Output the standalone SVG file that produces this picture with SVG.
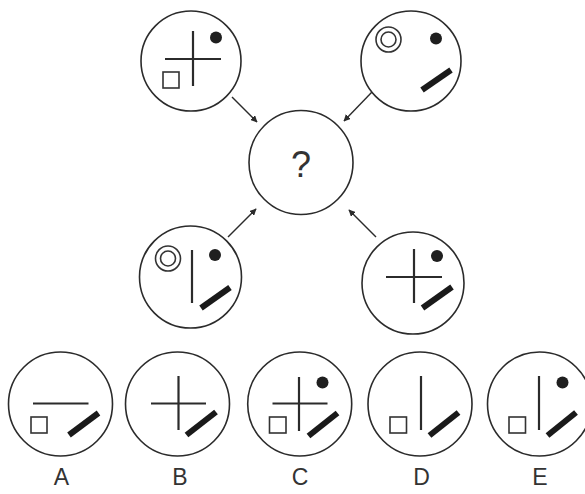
<svg xmlns="http://www.w3.org/2000/svg" width="585" height="494" viewBox="0 0 585 494">
<defs>
<style>
.c{fill:none;stroke:#2b2b2b;stroke-width:1.6}
.l{stroke:#2b2b2b;stroke-width:2.2;fill:none}
.b{stroke:#1a1a1a;stroke-width:6;fill:none}
.s{fill:none;stroke:#333;stroke-width:1.6}
.d{fill:#1f1f1f}
.a{stroke:#2b2b2b;stroke-width:1.4;fill:none;marker-end:url(#ah)}
.t{font-family:"Liberation Sans",Arial,sans-serif;fill:#333;text-anchor:middle}
</style>
<marker id="ah" viewBox="0 0 10 10" refX="9" refY="5" markerWidth="7" markerHeight="7" orient="auto" markerUnits="userSpaceOnUse">
<path d="M0,0 L10,5 L0,10 z" fill="#2b2b2b"/>
</marker>
</defs>
<rect width="585" height="494" fill="#fff"/>
<g id="connectors">
<line class="a" x1="232" y1="97" x2="257" y2="122"/>
<line class="a" x1="372" y1="92" x2="344" y2="121"/>
<line class="a" x1="228" y1="237" x2="256" y2="209"/>
<line class="a" x1="376" y1="237" x2="349" y2="210"/>
</g>
<g id="top-left">
<circle class="c" cx="191" cy="61" r="50"/>
<line class="l" x1="193" y1="31" x2="193" y2="86"/>
<line class="l" x1="165" y1="59" x2="221" y2="59"/>
<circle class="d" cx="216" cy="37.5" r="6"/>
<rect class="s" x="163" y="72" width="16" height="16"/>
</g>
<g id="top-right">
<circle class="c" cx="411" cy="61" r="50"/>
<circle class="s" cx="388.5" cy="39.5" r="12.5"/>
<circle class="s" cx="388.5" cy="39.5" r="7.5"/>
<circle class="d" cx="436" cy="38.5" r="6"/>
<line class="b" x1="422" y1="90" x2="451" y2="70"/>
</g>
<g id="center">
<circle class="c" cx="301" cy="162.5" r="52"/>
<text class="t" x="301" y="177" font-size="36">?</text>
</g>
<g id="bottom-left">
<circle class="c" cx="190.5" cy="277" r="51"/>
<circle class="s" cx="168" cy="258.5" r="12.5"/>
<circle class="s" cx="168" cy="258.5" r="7.5"/>
<line class="l" x1="192" y1="250" x2="192" y2="303"/>
<circle class="d" cx="215" cy="255" r="6"/>
<line class="b" x1="201" y1="308" x2="230" y2="287.5"/>
</g>
<g id="bottom-right">
<circle class="c" cx="413" cy="283" r="51"/>
<line class="l" x1="414" y1="249" x2="414" y2="303"/>
<line class="l" x1="386" y1="277" x2="442" y2="277"/>
<circle class="d" cx="437" cy="256" r="6"/>
<line class="b" x1="422.5" y1="308" x2="452" y2="287"/>
</g>
<g id="option-A">
<circle class="c" cx="60.5" cy="404" r="52"/>
<line class="l" x1="33" y1="403.5" x2="88.5" y2="403.5"/>
<rect class="s" x="31" y="417" width="16" height="16"/>
<line class="b" x1="69" y1="435" x2="98.5" y2="413"/>
<text class="t" x="61.5" y="485" font-size="23">A</text>
</g>
<g id="option-B">
<circle class="c" cx="177.5" cy="404" r="52"/>
<line class="l" x1="178.5" y1="376" x2="178.5" y2="430"/>
<line class="l" x1="151" y1="403.5" x2="206" y2="403.5"/>
<line class="b" x1="186.5" y1="435" x2="216" y2="412"/>
<text class="t" x="180" y="485" font-size="23">B</text>
</g>
<g id="option-C">
<circle class="c" cx="299.7" cy="404" r="52"/>
<line class="l" x1="299" y1="377" x2="299" y2="431"/>
<line class="l" x1="272.5" y1="403.5" x2="327.5" y2="403.5"/>
<circle class="d" cx="322.5" cy="382.5" r="6"/>
<rect class="s" x="269.5" y="417" width="16.5" height="16"/>
<line class="b" x1="308.5" y1="436" x2="337.5" y2="413"/>
<text class="t" x="300" y="485" font-size="23">C</text>
</g>
<g id="option-D">
<circle class="c" cx="420" cy="404" r="52"/>
<line class="l" x1="421" y1="376" x2="421" y2="430"/>
<rect class="s" x="390" y="417" width="16.5" height="16"/>
<line class="b" x1="429.5" y1="435.5" x2="458.5" y2="412.5"/>
<text class="t" x="421.5" y="485" font-size="23">D</text>
</g>
<g id="option-E">
<circle class="c" cx="539.5" cy="404" r="52"/>
<line class="l" x1="539" y1="376" x2="539" y2="430"/>
<rect class="s" x="509" y="417" width="16.5" height="16"/>
<circle class="d" cx="562.5" cy="382.5" r="6"/>
<line class="b" x1="547.5" y1="435.5" x2="576" y2="412.5"/>
<text class="t" x="540" y="485" font-size="23">E</text>
</g>
</svg>
